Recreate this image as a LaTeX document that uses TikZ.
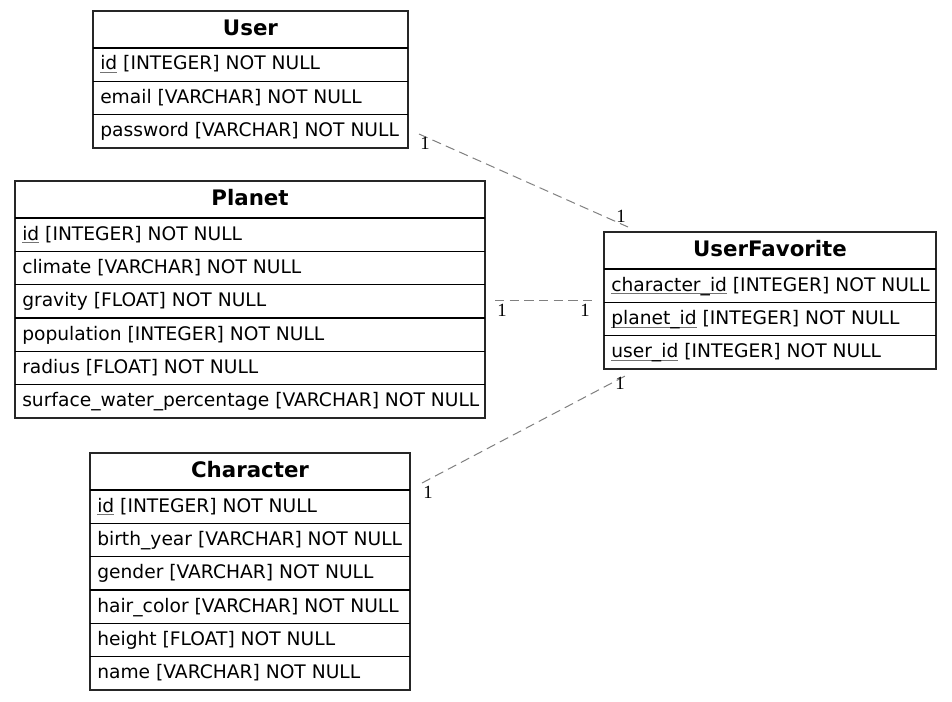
\documentclass[tikz,border=0pt]{standalone}
\usepackage{fontspec}
\setmainfont{DejaVu Sans}
\newfontfamily\cardfamily{Liberation Serif}
\usetikzlibrary{fit}
\newcommand\keyul[1]{\setbox0\hbox{#1}\rlap{\textcolor{black!55}{\rule[-2.6pt]{\wd0}{0.75pt}}}\box0{}}
\tikzset{
  tbl/.style={draw=black!85, line width=1pt, inner sep=0pt, outer sep=0pt},
  sepline/.style={draw=black, line width=1pt},
  hdr/.style={font=\fontsize{16pt}{19pt}\selectfont\bfseries, anchor=base, inner sep=0pt},
  fld/.style={font=\fontsize{14pt}{17pt}\selectfont, anchor=base west, inner sep=0pt},
  card/.style={font=\fontsize{14pt}{17pt}\selectfont\cardfamily, inner sep=0pt},
  rel/.style={draw=black!50, line width=0.75pt, dash pattern=on 7pt off 4pt}
}
\begin{document}
\begin{tikzpicture}[x=0.75pt,y=-0.75pt]
\useasboundingbox (0,0) rectangle (952,702);
\fill[white] (0,0) rectangle (952,702);

% User
\node[tbl, fit={(93,11)(408,148)}] (user) {};
\foreach \yy in {48,81.33,114.67} \draw[sepline] (93,\yy) -- (408,\yy);
\node[hdr] (user-h) at (250.5,35.5) {User};
\node[fld] (user-id) at (100,70) {\keyul{id} [INTEGER] NOT NULL};
\node[fld] (user-email) at (100,103.33) {email [VARCHAR] NOT NULL};
\node[fld] (user-pw) at (100,136.67) {password [VARCHAR] NOT NULL};

% Planet
\node[tbl, fit={(15,181)(485,418)}] (planet) {};
\foreach \yy in {218,251.33,284.67,318,351.33,384.67} \draw[sepline] (15,\yy) -- (485,\yy);
\node[hdr] (planet-h) at (250,205.5) {Planet};
\node[fld] (planet-id) at (22,240) {\keyul{id} [INTEGER] NOT NULL};
\node[fld] (planet-cl) at (22,273.33) {climate [VARCHAR] NOT NULL};
\node[fld] (planet-gr) at (22,306.67) {gravity [FLOAT] NOT NULL};
\node[fld] (planet-po) at (22,340) {population [INTEGER] NOT NULL};
\node[fld] (planet-ra) at (22,373.33) {radius [FLOAT] NOT NULL};
\node[fld] (planet-sw) at (22,406.67) {surface\_water\_percentage [VARCHAR] NOT NULL};

% Character
\node[tbl, fit={(90,453)(410,690)}] (character) {};
\foreach \yy in {490,523.33,556.67,590,623.33,656.67} \draw[sepline] (90,\yy) -- (410,\yy);
\node[hdr] (char-h) at (250,477.5) {Character};
\node[fld] (char-id) at (97,512) {\keyul{id} [INTEGER] NOT NULL};
\node[fld] (char-by) at (97,545.33) {birth\_year [VARCHAR] NOT NULL};
\node[fld] (char-ge) at (97,578.67) {gender [VARCHAR] NOT NULL};
\node[fld] (char-hc) at (97,612) {hair\_color [VARCHAR] NOT NULL};
\node[fld] (char-he) at (97,645.33) {height [FLOAT] NOT NULL};
\node[fld] (char-na) at (97,678.67) {name [VARCHAR] NOT NULL};

% UserFavorite
\node[tbl, fit={(604,232)(936,369)}] (userfav) {};
\foreach \yy in {269,302.33,335.67} \draw[sepline] (604,\yy) -- (936,\yy);
\node[hdr] (uf-h) at (770,256.5) {UserFavorite};
\node[fld] (uf-c) at (611,291) {\keyul{character\_id} [INTEGER] NOT NULL};
\node[fld] (uf-p) at (611,324.33) {\keyul{planet\_id} [INTEGER] NOT NULL};
\node[fld] (uf-u) at (611,357.67) {\keyul{user\_id} [INTEGER] NOT NULL};

% connectors
\coordinate (uA) at (419,134);
\coordinate (ufU) at (628,227);
\coordinate (pA) at (495,300);
\coordinate (ufP) at (593,300);
\coordinate (cA) at (422,483);
\coordinate (ufC) at (627,375);
\draw[rel] (uA) -- (ufU);
\draw[rel] (pA) -- (ufP);
\draw[rel] (cA) -- (ufC);

\node[card] (l-u1) at (425,143) {1};
\node[card] (l-u2) at (621,216) {1};
\node[card] (l-p1) at (502,310) {1};
\node[card] (l-p2) at (585,310) {1};
\node[card] (l-c1) at (428,492) {1};
\node[card] (l-c2) at (620,383) {1};
\end{tikzpicture}
\end{document}
